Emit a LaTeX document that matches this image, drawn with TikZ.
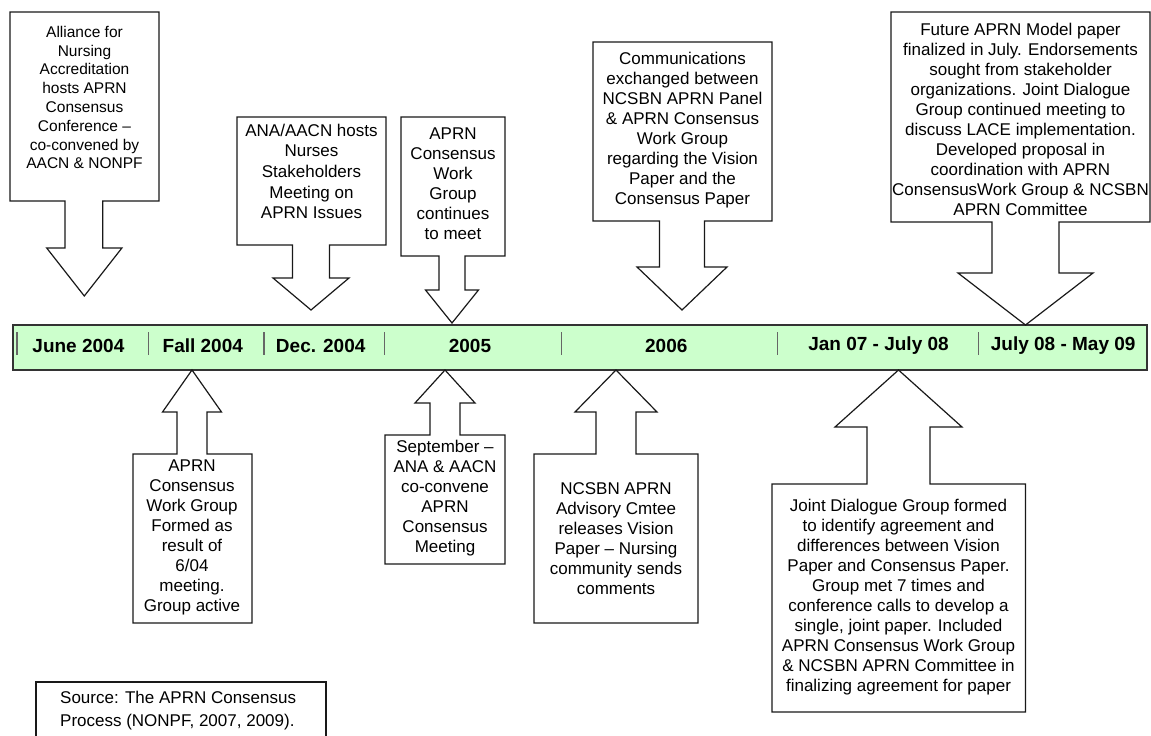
\documentclass[tikz,border=0pt]{standalone}
\usepackage{fontspec}
\setmainfont{Liberation Sans}

\definecolor{barfill}{HTML}{CCFFCC}

\tikzset{
	callout/.style={draw=black!90, fill=white, line width=1.2pt, line join=miter},
	note/.style={align=center, inner sep=0pt, font=\fontsize{17}{20}\selectfont},
	period/.style={inner sep=0pt, font=\fontsize{19}{22}\selectfont\bfseries},
	divider/.style={draw=black!60, line width=1.2pt}
}

\begin{document}
\begin{tikzpicture}[x=1pt,y=-1pt]
	\useasboundingbox (0,0) rectangle (1151,736);
	\clip (0,0) rectangle (1151,736);

	% The time bar
	\filldraw[fill=barfill, draw=black!80, line width=1.5pt] (13,325) rectangle (1147,370);
	\foreach \sx in {17,148.5,264,384.6,561.7,777.5,978.4}
	{
		\draw[divider] (\sx,332) -- (\sx,355);
	}
	\foreach \px/\nm/\txt in {78.4/june/June 2004, 202.8/fall/Fall 2004, 320.7/dec/Dec. 2004, 470/yrfive/2005, 666.3/yrsix/2006, 878.5/janjul/Jan 07 - July 08, 1063.2/julmay/July 08 - May 09}
	{
		\node[period] (\nm) at (\px,346) {\txt};
	}

	% Callouts above the bar
	\filldraw[callout] (10,12) -- (159,12) -- (159,201) -- (102.7,201) -- (102.7,248) -- (121.9,248) -- (84.3,296) -- (46.7,248) -- (65,248) -- (65,201) -- (10,201) -- cycle;
	\node[note, font=\fontsize{15.5}{18.8}\selectfont] (alliance) at (84.5,97.5) {Alliance for\\Nursing\\Accreditation\\hosts APRN\\Consensus\\Conference –\\co-convened by\\AACN \& NONPF};

	\filldraw[callout] (237,117) -- (386,117) -- (386,245) -- (329.5,245) -- (329.5,278) -- (349,278) -- (311,310) -- (273,278) -- (292.5,278) -- (292.5,245) -- (237,245) -- cycle;
	\node[note, font=\fontsize{17}{20.7}\selectfont] (stakeholders) at (311.5,171.5) {ANA/AACN hosts\\Nurses\\Stakeholders\\Meeting on\\APRN Issues};

	\filldraw[callout] (401,117) -- (505,117) -- (505,256) -- (465,256) -- (465,290) -- (478.5,290) -- (452,323) -- (425.5,290) -- (439,290) -- (439,256) -- (401,256) -- cycle;
	\node[note] (continues) at (453,183.5) {APRN\\Consensus\\Work\\Group\\continues\\to meet};

	\filldraw[callout] (593,42) -- (772,42) -- (772,221) -- (704.5,221) -- (704.5,267) -- (727,267) -- (682,310) -- (637,267) -- (659.5,267) -- (659.5,221) -- (593,221) -- cycle;
	\node[note] (communications) at (682.5,130) {Communications\\exchanged between\\NCSBN APRN Panel\\\& APRN Consensus\\Work Group\\regarding the Vision\\Paper and the\\Consensus Paper};

	\filldraw[callout] (891,12) -- (1150,12) -- (1150,222) -- (1059,222) -- (1059,273) -- (1093,273) -- (1025.5,325) -- (958,273) -- (992,273) -- (992,222) -- (891,222) -- cycle;
	\node[note] (future) at (1020.5,119) {Future APRN Model paper\\finalized in July.  Endorsements\\sought from stakeholder\\organizations.  Joint Dialogue\\Group continued meeting to\\discuss LACE implementation.\\Developed proposal in\\coordination with APRN\\ConsensusWork Group \& NCSBN\\APRN Committee};

	% Callouts below the bar
	\filldraw[callout] (133,623) -- (252,623) -- (252,454) -- (207,454) -- (207,412) -- (221.5,412) -- (192,370) -- (162.5,412) -- (177,412) -- (177,454) -- (133,454) -- cycle;
	\node[note] (formed) at (192,537) {APRN\\Consensus\\Work Group\\Formed as\\result of\\6/04\\meeting.\\Group active};

	\filldraw[callout] (385,564) -- (505,564) -- (505,435) -- (460,435) -- (460,403) -- (475,403) -- (445,370) -- (415,403) -- (430,403) -- (430,435) -- (385,435) -- cycle;
	\node[note] (september) at (445,498) {September –\\ANA \& AACN\\co-convene\\APRN\\Consensus\\Meeting};

	\filldraw[callout] (534,623) -- (698,623) -- (698,454) -- (636,454) -- (636,412) -- (657,412) -- (616,370) -- (575,412) -- (596,412) -- (596,454) -- (534,454) -- cycle;
	\node[note] (advisory) at (616,539) {NCSBN APRN\\Advisory Cmtee\\releases Vision\\Paper – Nursing\\community sends\\comments};

	\filldraw[callout] (772,712) -- (1025.5,712) -- (1025.5,484) -- (930,484) -- (930,427) -- (962,427) -- (898.5,370) -- (835,427) -- (867,427) -- (867,484) -- (772,484) -- cycle;
	\node[note] (dialogue) at (898.5,597) {Joint Dialogue Group formed\\to identify agreement and\\differences between Vision\\Paper and Consensus Paper.\\Group met 7 times and\\conference calls to develop a\\single, joint paper.  Included\\APRN Consensus Work Group\\\& NCSBN APRN Committee in\\finalizing agreement for paper};

	% Source
	\draw[callout] (36,750) -- (36,682) -- (326,682) -- (326,750);
	\node[note, align=left, anchor=west, font=\fontsize{17}{23}\selectfont] (source) at (60,710.5) {Source: The APRN Consensus\\Process (NONPF, 2007, 2009).};
\end{tikzpicture}
\end{document}
